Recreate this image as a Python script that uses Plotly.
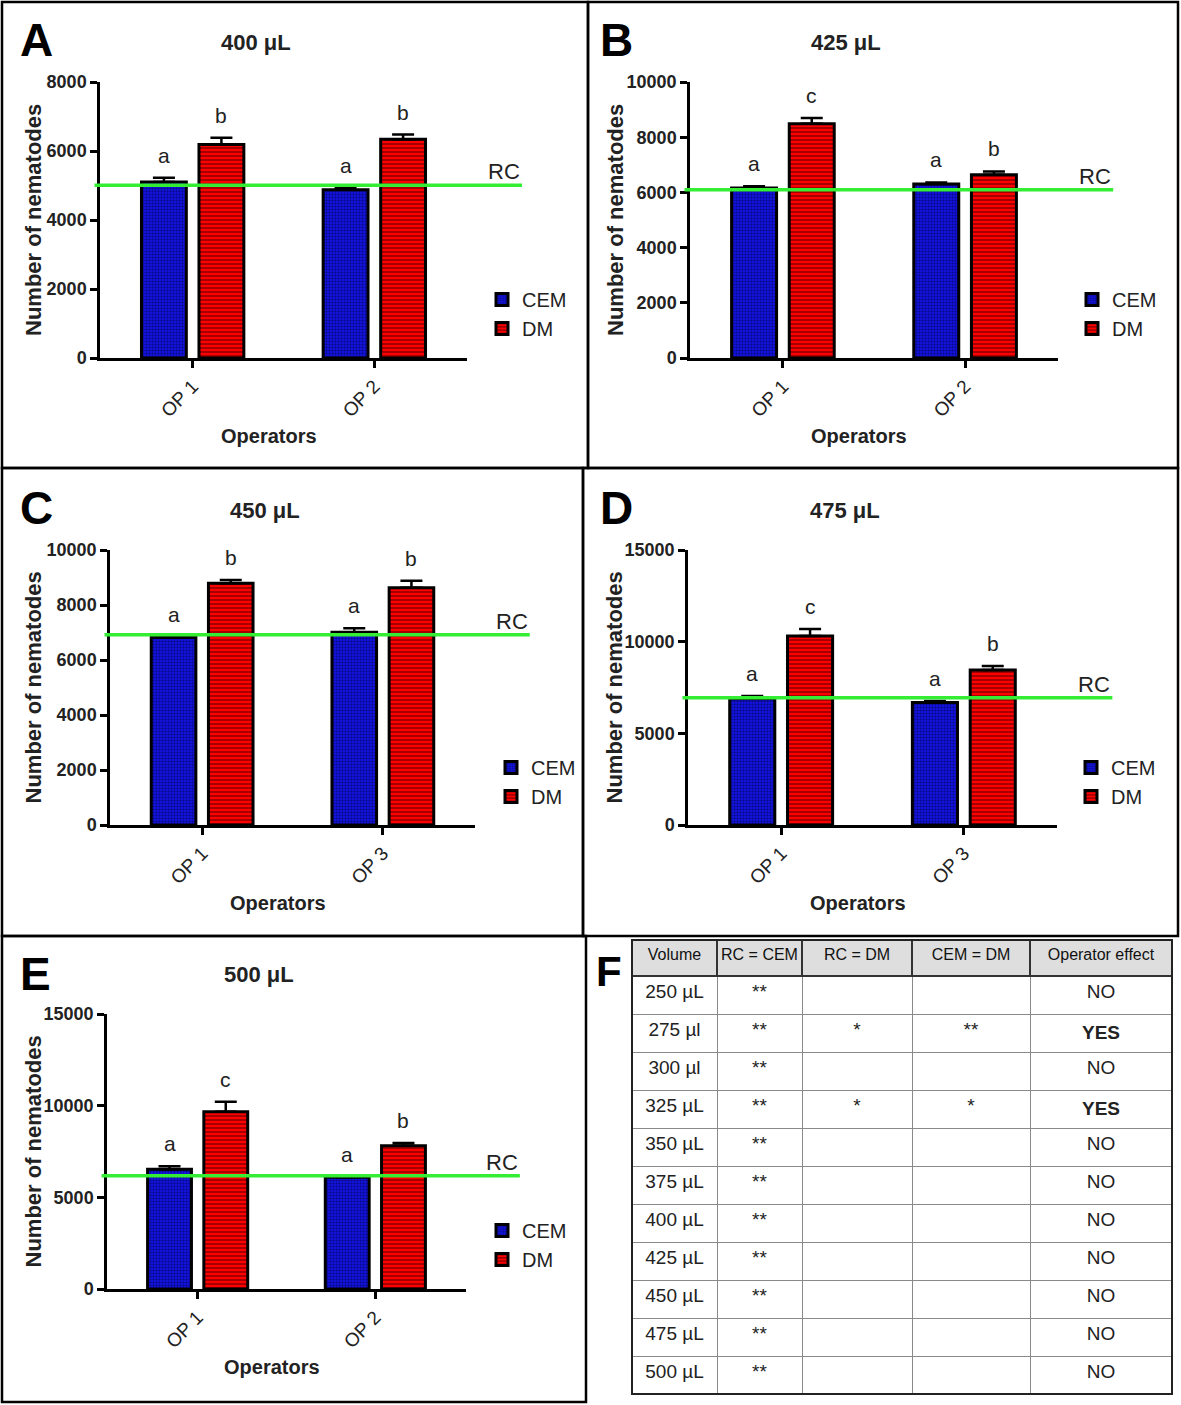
import plotly.graph_objects as go

# ---------------- data ----------------
panel_letters = ["A", "B", "C", "D", "E"]
panel_titles = ["400 μL", "425 μL", "450 μL", "475 μL", "500 μL"]
operators = [["OP 1", "OP 2"], ["OP 1", "OP 2"], ["OP 1", "OP 3"], ["OP 1", "OP 3"], ["OP 1", "OP 2"]]
cem_mean = [[5100, 4880], [6160, 6300], [6820, 7010], [6880, 6680], [6530, 6090]]
cem_err = [[125, 58], [60, 60], [30, 145], [160, 90], [164, 0]]
dm_mean = [[6190, 6340], [8490, 6640], [8790, 8630], [10310, 8460], [9670, 7820]]
dm_err = [[193, 135], [206, 120], [120, 254], [380, 218], [545, 146]]
rc_value = [5005, 6100, 6915, 6940, 6180]
cem_letter = [["a", "a"], ["a", "a"], ["a", "a"], ["a", "a"], ["a", "a"]]
dm_letter = [["b", "b"], ["c", "b"], ["b", "b"], ["c", "b"], ["c", "b"]]
y_max = [8000, 10000, 10000, 15000, 15000]
y_dtick = [2000, 2000, 2000, 5000, 5000]

table_header = ["Volume", "RC\u00a0=\u00a0CEM", "RC\u00a0=\u00a0DM", "CEM\u00a0=\u00a0DM", "Operator\u00a0effect"]
table_volume = ["250 µL", "275 µl", "300 µl", "325 µL", "350 µL", "375 µL",
                "400 µL", "425 µL", "450 µL", "475 µL", "500 µL"]
table_rc_cem = ["**", "**", "**", "**", "**", "**", "**", "**", "**", "**", "**"]
table_rc_dm = ["", "*", "", "*", "", "", "", "", "", "", ""]
table_cem_dm = ["", "**", "", "*", "", "", "", "", "", "", ""]
table_op_effect = ["NO", "YES", "NO", "YES", "NO", "NO", "NO", "NO", "NO", "NO", "NO"]

# ---------------- layout geometry (pixels) ----------------
W, H = 1181, 1405
BASE = "Liberation Sans, Arial, sans-serif"
geom = [
    dict(x0=100, x1=467, ytop=82, ybot=358, box=(2, 2, 588, 468), letter=(18, 12), legend=(482, 280), ytx=33),
    dict(x0=690, x1=1058, ytop=82, ybot=358, box=(588, 2, 1178, 468), letter=(598, 12), legend=(1072, 280), ytx=615),
    dict(x0=110, x1=475, ytop=550, ybot=825, box=(2, 468, 583, 936), letter=(18, 480), legend=(491, 748), ytx=33),
    dict(x0=688, x1=1057, ytop=550, ybot=825, box=(583, 468, 1178, 936), letter=(598, 480), legend=(1071, 748), ytx=614),
    dict(x0=107, x1=466, ytop=1014, ybot=1289, box=(2, 936, 586, 1402), letter=(18, 946), legend=(482, 1211), ytx=33),
]
BARGAP = 0.367
BARGROUPGAP = 0.22


def fx(x):
    return x / W


def fy(y):
    return 1 - y / H


fig = go.Figure()
annotations = []
shapes = []
layout_axes = {}

for i in range(5):
    g = geom[i]
    sfx = "" if i == 0 else str(i + 1)
    xa, ya = "x" + sfx, "y" + sfx
    leg = "legend" + sfx
    cats = operators[i]

    fig.add_trace(go.Bar(
        x=cats, y=cem_mean[i], name="CEM", xaxis=xa, yaxis=ya, legend=leg,
        legendgroup="cem%d" % i,
        marker=dict(color="#1515f0", line=dict(color="black", width=3),
                    pattern=dict(shape=".", fgcolor="#000030", bgcolor="#1515f0", size=3, solidity=0.5)),
        error_y=dict(type="data", symmetric=False, array=cem_err[i], arrayminus=[0] * len(cats),
                     color="black", thickness=2.5, width=11),
    ))
    fig.add_trace(go.Bar(
        x=cats, y=dm_mean[i], name="DM", xaxis=xa, yaxis=ya, legend=leg,
        legendgroup="dm%d" % i,
        marker=dict(color="#ff0000", line=dict(color="black", width=3),
                    pattern=dict(shape="-", fgcolor="#1a0000", bgcolor="#ff0000", size=4, solidity=0.4)),
        error_y=dict(type="data", symmetric=False, array=dm_err[i], arrayminus=[0] * len(cats),
                     color="black", thickness=2.5, width=11),
    ))

    layout_axes["xaxis" + sfx] = dict(
        domain=[fx(g["x0"]), fx(g["x1"])], anchor=ya, type="category", automargin=False,
        range=[-0.51, 1.51], showline=True, linecolor="black", linewidth=2.5,
        ticks="outside", ticklen=7, tickwidth=2.5, tickcolor="black", tickangle=-45,
        tickfont=dict(family=BASE, size=19, color="#222"), showgrid=False, zeroline=False,
    )
    layout_axes["yaxis" + sfx] = dict(
        domain=[fy(g["ybot"]), fy(g["ytop"])], anchor=xa, range=[0, y_max[i]], dtick=y_dtick[i],
        tickformat="d", automargin=False,
        showline=True, linecolor="black", linewidth=2.5,
        ticks="outside", ticklen=7, tickwidth=2.5, tickcolor="black",
        tickfont=dict(family=BASE, size=18, color="#222", weight="bold"), showgrid=False, zeroline=False,
    )
    layout_axes[leg] = dict(
        x=fx(g["legend"][0]), y=fy(g["legend"][1]), xanchor="left", yanchor="top",
        font=dict(family=BASE, size=20, color="#222"), bgcolor="rgba(0,0,0,0)",
        tracegroupgap=12, itemwidth=30, traceorder="normal",
    )

    # letters above bars
    half = (1 - BARGAP) / 4
    for j in range(len(cats)):
        for val, err, txt, off in ((cem_mean[i][j], cem_err[i][j], cem_letter[i][j], -half),
                                   (dm_mean[i][j], dm_err[i][j], dm_letter[i][j], half)):
            annotations.append(dict(
                x=j + off, y=val + err, xref=xa, yref=ya, text=txt, showarrow=False,
                yanchor="bottom", yshift=9, font=dict(family=BASE, size=21, color="#222")))

    # RC reference line + label
    shapes.append(dict(type="line", xref=xa + " domain", yref=ya, x0=-0.015, x1=1.15,
                       y0=rc_value[i], y1=rc_value[i], line=dict(color="#33ee33", width=3.5), layer="above"))
    annotations.append(dict(x=1.15, xref=xa + " domain", y=rc_value[i], yref=ya, text="RC",
                            showarrow=False, xanchor="right", yanchor="bottom", yshift=-1,
                            font=dict(family=BASE, size=22, color="#222")))

    # titles
    annotations.append(dict(x=0.5, xref=xa + " domain", xshift=-28, y=1, yref=ya + " domain", yshift=40,
                            xanchor="center", yanchor="middle",
                            text="<b>" + panel_titles[i] + "</b>", showarrow=False,
                            font=dict(family=BASE, size=22, color="#222")))
    annotations.append(dict(x=0.5, xref=xa + " domain", xshift=-15, y=0, yref=ya + " domain", yshift=-78,
                            xanchor="center", yanchor="middle",
                            text="<b>Operators</b>", showarrow=False,
                            font=dict(family=BASE, size=20, color="#222")))
    annotations.append(dict(x=fx(g["ytx"]), xref="paper", y=0.5, yref=ya + " domain",
                            xanchor="center", yanchor="middle",
                            text="<b>Number of nematodes</b>", textangle=-90, showarrow=False,
                            font=dict(family=BASE, size=22, color="#222")))
    annotations.append(dict(x=fx(g["letter"][0]), y=fy(g["letter"][1]), xref="paper", yref="paper",
                            xanchor="left", yanchor="top", text="<b>" + panel_letters[i] + "</b>",
                            showarrow=False, font=dict(family=BASE, size=46, color="black")))
    bx = g["box"]
    shapes.append(dict(type="rect", xref="paper", yref="paper", x0=fx(bx[0]), x1=fx(bx[2]),
                       y0=fy(bx[3]), y1=fy(bx[1]), line=dict(color="black", width=2.5), layer="below"))

# ---------------- table F ----------------
T_X0, T_X1, T_Y0, T_Y1 = 632, 1172, 940, 1396
fig.add_trace(go.Table(
    domain=dict(x=[fx(T_X0), fx(T_X1)], y=[fy(T_Y1), fy(T_Y0)]),
    columnwidth=[85, 85, 110, 118, 142],
    header=dict(values=table_header, fill_color="#dedede", height=36, align="center",
                line=dict(color="#333", width=1.5),
                font=dict(family=BASE, size=16, color="#111")),
    cells=dict(values=[table_volume, table_rc_cem, table_rc_dm, table_cem_dm,
                       ["<b>" + v + "</b>" if v == "YES" else v for v in table_op_effect]],
               fill_color="white", height=38, align="center",
               line=dict(color="#8a8a8a", width=1),
               font=dict(family=BASE, size=19, color="#222")),
))
shapes.append(dict(type="rect", xref="paper", yref="paper", x0=fx(T_X0), x1=fx(T_X1),
                   y0=fy(T_Y0 + 454), y1=fy(T_Y0), line=dict(color="#222", width=2)))
annotations.append(dict(x=fx(594), y=fy(946), xref="paper", yref="paper", xanchor="left", yanchor="top",
                        text="<b>F</b>", showarrow=False, font=dict(family=BASE, size=42, color="black")))

fig.update_layout(
    width=W, height=H, margin=dict(l=0, r=0, t=0, b=0, pad=0, autoexpand=False), autosize=False,
    paper_bgcolor="white", plot_bgcolor="white",
    barmode="group", bargap=BARGAP, bargroupgap=BARGROUPGAP,
    annotations=annotations, shapes=shapes, showlegend=True,
    **layout_axes,
)
fig.write_html(
    "out.html",
    config={"displayModeBar": False},
    post_script=("document.body.style.margin='0px';document.body.style.padding='0px';"
                 "var d=document.getElementById('{plot_id}');d.style.position='absolute';"
                 "d.style.left='0px';d.style.top='0px';"),
)
